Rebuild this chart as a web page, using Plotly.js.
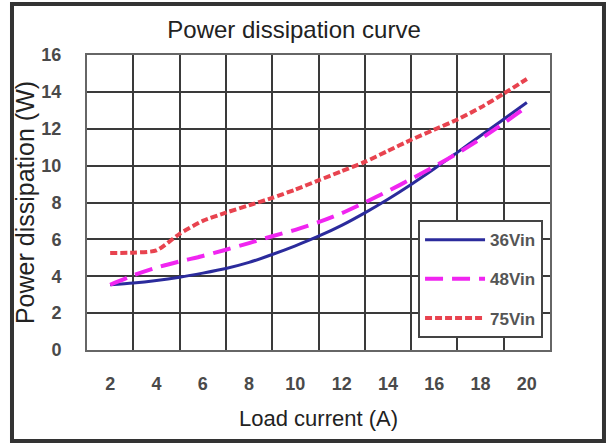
<!DOCTYPE html>
<html>
<head>
<meta charset="utf-8">
<script src="https://cdn.plot.ly/plotly-3.0.1.min.js"></script>
<style>
  html, body { margin: 0; padding: 0; background: #ffffff; }
  #chart { width: 610px; height: 445px; }
</style>
</head>
<body>
<div id="chart"></div>
<script>
// Load current (A)
const loadCurrent = [2, 3, 4, 5, 6, 7, 8, 9, 10, 11, 12, 13, 14, 15, 16, 17, 18, 19, 20];
// Power dissipation (W)
const vin36 = [3.54, 3.63, 3.77, 3.95, 4.17, 4.42, 4.75, 5.18, 5.65, 6.17, 6.76, 7.44, 8.18, 8.98, 9.83, 10.72, 11.62, 12.52, 13.42];
const vin48 = [3.54, 4.05, 4.47, 4.8, 5.1, 5.44, 5.8, 6.17, 6.52, 6.93, 7.42, 8.0, 8.62, 9.27, 9.95, 10.67, 11.45, 12.3, 13.2];
const vin75 = [5.26, 5.28, 5.4, 6.3, 7.0, 7.45, 7.85, 8.25, 8.7, 9.2, 9.7, 10.2, 10.8, 11.4, 11.95, 12.5, 13.15, 13.9, 14.7];
const seriesNames = ["36Vin", "48Vin", "75Vin"];
const xTickVals = [2, 4, 6, 8, 10, 12, 14, 16, 18, 20];
const yTickVals = [0, 2, 4, 6, 8, 10, 12, 14, 16];

const FONT = "Liberation Sans, Arial, sans-serif";

const traces = [
  {
    x: loadCurrent, y: vin36, name: seriesNames[0], type: "scatter", mode: "lines",
    line: { color: "#2b2b9c", width: 3, shape: "spline", smoothing: 0.8 },
    legendgroup: "a"
  },
  {
    x: loadCurrent, y: vin48, name: seriesNames[1], type: "scatter", mode: "lines",
    line: { color: "#f025f0", width: 4, dash: "18px,9px", shape: "spline", smoothing: 0.8 },
    legendgroup: "b"
  },
  {
    x: loadCurrent, y: vin75, name: seriesNames[2], type: "scatter", mode: "lines",
    line: { color: "#e8434f", width: 4, dash: "7px,3px", shape: "spline", smoothing: 0.6 },
    legendgroup: "c"
  }
];

const layout = {
  width: 610, height: 445,
  margin: { l: 87, r: 60, t: 55, b: 95 },
  paper_bgcolor: "#ffffff",
  plot_bgcolor: "#ffffff",
  font: { family: FONT, color: "#333333" },
  title: {
    text: "Power dissipation curve",
    font: { family: FONT, size: 24, color: "#222222" },
    x: 0.482, xref: "container", xanchor: "center",
    y: 0.933, yref: "container", yanchor: "middle"
  },
  xaxis: {
    range: [1, 21],
    tickmode: "array", tickvals: xTickVals,
    ticks: "outside", ticklen: 16, tickcolor: "rgba(0,0,0,0)",
    tickfont: { family: FONT, size: 18, color: "#4a4a4a", weight: "bold" },
    showgrid: false,
    minor: { tick0: 1, dtick: 2, showgrid: true, gridcolor: "#3a3a3a", gridwidth: 2, ticks: "" },
    showline: true, mirror: true, linecolor: "#666666", linewidth: 2,
    zeroline: false,
    title: { text: "Load current (A)", font: { family: FONT, size: 22, color: "#222222" }, standoff: 18 }
  },
  yaxis: {
    range: [0, 16],
    tickmode: "array", tickvals: yTickVals,
    ticks: "outside", ticklen: 20, tickcolor: "rgba(0,0,0,0)",
    tickfont: { family: FONT, size: 18, color: "#4a4a4a", weight: "bold" },
    showgrid: true, gridcolor: "#3a3a3a", gridwidth: 2,
    showline: true, mirror: true, linecolor: "#666666", linewidth: 2,
    zeroline: false,
    title: { text: "Power dissipation (W)", font: { family: FONT, size: 25, color: "#222222" }, standoff: 0 }
  },
  showlegend: true,
  legend: {
    x: 0.715, y: 0.44, xanchor: "left", yanchor: "top",
    bgcolor: "#ffffff", bordercolor: "#444444", borderwidth: 2,
    font: { family: FONT, size: 17, color: "#555555", weight: "bold" },
    tracegroupgap: 14,
    itemwidth: 60
  },
  shapes: [
    {
      type: "rect", xref: "paper", yref: "paper",
      x0: -0.162, x1: 1.1166, y0: -0.3085, y1: 1.1729,
      line: { color: "#333333", width: 4 }, fillcolor: "rgba(0,0,0,0)", layer: "below"
    }
  ]
};

Plotly.newPlot("chart", traces, layout, { displayModeBar: false, staticPlot: true });
</script>
</body>
</html>
